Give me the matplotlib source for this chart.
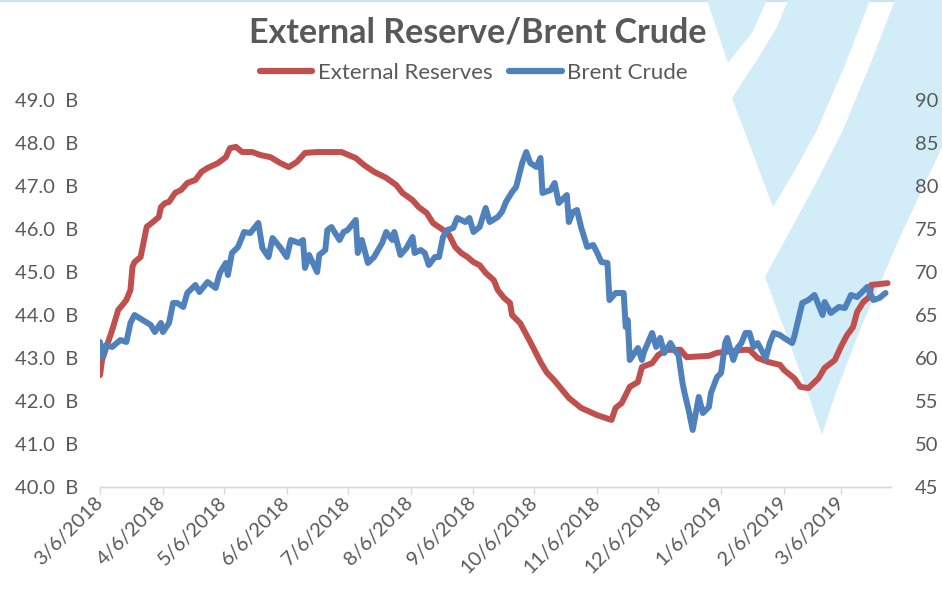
import matplotlib
matplotlib.use("Agg")
import matplotlib.pyplot as plt
import matplotlib.transforms as mtransforms
from matplotlib.patches import Polygon
from matplotlib.lines import Line2D
import pandas as pd

plt.rcParams['font.family'] = ['Lato', 'DejaVu Sans']

# ---------------- data ----------------
start_date = "2018-03-06"

reserve_days = [0, 1, 4, 6, 9, 11, 13, 15, 16, 17, 20, 21, 23, 26, 29, 30, 32, 34, 37, 40,
                43, 47, 50, 53, 58, 62, 64, 67, 70, 75, 79, 84, 89, 93, 97, 101, 107, 119, 126, 130,
                135, 141, 146, 149, 154, 157, 161, 164, 169, 172, 175, 178, 181, 184, 187, 190, 194, 196, 199, 202,
                203, 207, 212, 217, 220, 224, 231, 237, 245, 252, 254, 257, 261, 265, 267, 272, 275, 279, 286, 289,
                300, 304, 317, 320, 324, 329, 335, 337, 342, 345, 349, 354, 357, 362, 365, 368, 371, 373, 376, 379,
                380, 388]
reserve_values = [42.60, 42.95, 43.37, 43.65, 44.12, 44.23, 44.35, 44.58, 45.12, 45.23,
                  45.35, 45.58, 46.05, 46.16, 46.28, 46.51, 46.60, 46.63, 46.84, 46.91,
                  47.07, 47.14, 47.33, 47.42, 47.53, 47.67, 47.88, 47.91, 47.79, 47.79,
                  47.72, 47.67, 47.53, 47.44, 47.56, 47.77, 47.79, 47.79, 47.65, 47.49,
                  47.33, 47.19, 47.02, 46.84, 46.67, 46.51, 46.37, 46.14, 45.98, 45.86,
                  45.58, 45.44, 45.35, 45.23, 45.16, 44.98, 44.81, 44.58, 44.40, 44.28,
                  44.00, 43.81, 43.37, 42.91, 42.67, 42.47, 42.07, 41.84, 41.67, 41.56,
                  41.84, 41.95, 42.33, 42.44, 42.79, 42.88, 43.07, 43.19, 43.19, 43.02,
                  43.05, 43.12, 43.19, 43.19, 43.00, 42.91, 42.84, 42.72, 42.53, 42.33,
                  42.30, 42.53, 42.77, 42.95, 43.26, 43.53, 43.72, 44.07, 44.30, 44.42,
                  44.70, 44.74]

brent_days = [0, 1, 3, 6, 10, 13, 15, 17, 21, 25, 27, 30, 31, 34, 36, 38, 41, 43, 47, 49,
              53, 57, 59, 62, 63, 65, 68, 71, 74, 78, 80, 83, 85, 89, 92, 94, 98, 100, 101, 103,
              107, 108, 111, 112, 114, 118, 120, 122, 126, 127, 129, 132, 135, 139, 141, 144, 145, 148, 151, 154,
              155, 158, 160, 162, 165, 167, 169, 171, 174, 176, 180, 182, 184, 187, 190, 192, 196, 198, 200, 203,
              205, 208, 210, 212, 215, 217, 218, 222, 224, 226, 230, 231, 233, 235, 237, 240, 243, 245, 247, 250,
              251, 254, 258, 259, 260, 261, 265, 267, 268, 272, 274, 276, 278, 281, 283, 285, 287, 288, 290, 292,
              295, 297, 300, 301, 304, 306, 308, 309, 312, 314, 316, 318, 320, 322, 324, 328, 330, 332, 335, 337,
              341, 342, 346, 349, 352, 356, 357, 360, 364, 367, 370, 373, 378, 381, 384, 387]
brent_values = [61.86, 60.12, 61.51, 61.28, 62.09, 61.86, 64.07, 65.00, 64.42, 63.84,
                63.02, 64.07, 63.02, 64.07, 66.40, 66.40, 65.93, 67.56, 68.49, 67.67,
                68.84, 68.14, 69.88, 71.05, 69.65, 72.21, 72.91, 74.65, 74.53, 75.70,
                72.79, 71.74, 73.95, 72.79, 71.74, 73.72, 73.37, 73.72, 70.47, 71.98,
                70.00, 71.98, 72.56, 74.88, 75.23, 73.72, 74.65, 74.88, 76.05, 72.21,
                73.72, 71.05, 71.74, 73.37, 74.65, 73.72, 74.65, 71.98, 72.79, 74.07,
                72.21, 72.56, 72.21, 70.81, 71.74, 71.74, 74.07, 74.88, 75.12, 76.28,
                75.81, 76.28, 74.65, 75.23, 77.44, 75.81, 76.40, 76.98, 78.14, 79.30,
                79.88, 82.67, 83.95, 82.67, 82.21, 83.26, 79.19, 79.53, 80.35, 78.02,
                78.95, 75.81, 76.98, 77.21, 75.23, 72.91, 73.14, 72.21, 71.16, 71.05,
                66.74, 67.56, 67.56, 63.60, 64.42, 59.77, 61.16, 59.77, 60.70, 62.91,
                61.28, 62.33, 60.58, 61.74, 60.93, 60.35, 57.09, 55.93, 53.95, 51.63,
                55.47, 53.60, 54.30, 55.93, 57.79, 58.26, 61.74, 62.33, 59.77, 61.16,
                61.74, 62.91, 62.91, 61.28, 61.74, 60.00, 61.74, 62.91, 62.67, 62.33,
                61.74, 62.44, 66.40, 66.74, 67.33, 65.00, 66.51, 65.23, 65.93, 65.81,
                67.33, 67.09, 68.26, 66.74, 66.98, 67.56]

tick_dates = ["2018-03-06", "2018-04-06", "2018-05-06", "2018-06-06", "2018-07-06",
              "2018-08-06", "2018-09-06", "2018-10-06", "2018-11-06", "2018-12-06",
              "2019-01-06", "2019-02-06", "2019-03-06"]
left_ticks = [40, 41, 42, 43, 44, 45, 46, 47, 48, 49]
right_ticks = [45, 50, 55, 60, 65, 70, 75, 80, 85, 90]
axis_end_days = 389.7

title_text = "External Reserve/Brent Crude"
series_names = ["External Reserves", "Brent Crude"]

# ---------------- style ----------------
RED = "#C0504D"
BLUE = "#4F81BD"
GREY = "#595959"
AXIS = "#D9D9D9"
WM = "#D3EDF8"

W, H = 942, 591
fig = plt.figure(figsize=(W / 100, H / 100), dpi=100)
fig.patch.set_facecolor("white")


def px(pts):
    return [(x / W, 1 - y / H) for x, y in pts]


# watermark shapes (background decoration)
shapes = [
    [(707, 0), (767, 0), (752, 33), (728, 63)],
    [(788, 0), (870, 0), (845, 65), (817, 130), (795, 170), (773, 207), (732, 98), (757, 60), (777, 27)],
    [(895, 0), (942, 0), (942, 147), (900, 237), (860, 330), (835, 395), (822, 435),
     (805, 385), (765, 277), (785, 240), (815, 185), (843, 130), (870, 65)],
]
for s in shapes:
    fig.patches.append(Polygon(px(s), closed=True, transform=fig.transFigure,
                               facecolor=WM, edgecolor="none", zorder=-10))
fig.add_artist(Line2D([0, 1], [1 - 0.8 / H, 1 - 0.8 / H], transform=fig.transFigure,
                      color="#C9E3F5", lw=1.5, zorder=-10))

start = pd.Timestamp(start_date)
r_x = start + pd.to_timedelta(reserve_days, unit="D")
b_x = start + pd.to_timedelta(brent_days, unit="D")
ticks = pd.to_datetime(tick_dates)

ax = fig.add_axes([100 / W, 104 / H, 791 / W, 387 / H])
ax2 = ax.twinx()
for a in (ax, ax2):
    a.patch.set_visible(False)
    for sp in ("top", "left", "right"):
        a.spines[sp].set_visible(False)
    a.spines["bottom"].set_color(AXIS)
    a.spines["bottom"].set_linewidth(1.0)

LW = 4.3
ax.plot(r_x, reserve_values, color=RED, lw=LW, solid_joinstyle="round", solid_capstyle="round", zorder=3)
ax2.plot(b_x, brent_values, color=BLUE, lw=LW, solid_joinstyle="round", solid_capstyle="round", zorder=3)

ax.set_xlim(start, start + pd.Timedelta(days=axis_end_days))
ax.set_ylim(left_ticks[0], left_ticks[-1])
ax2.set_ylim(right_ticks[0], right_ticks[-1])

ax.set_yticks(left_ticks)
ax.set_yticklabels([f"{v:.1f}  B" for v in left_ticks])
ax2.set_yticks(right_ticks)
ax2.set_yticklabels([f"{v}" for v in right_ticks])

ax.set_xticks(ticks)
ax.set_xticklabels([f"{d.month}/{d.day}/{d.year}" for d in ticks],
                   rotation=45, ha="right", va="center", rotation_mode="anchor")
shift = mtransforms.ScaledTranslation(6 / 100, -5 / 100, fig.dpi_scale_trans)
for lab in ax.get_xticklabels():
    lab.set_transform(lab.get_transform() + shift)

ax.tick_params(axis="y", length=0, pad=16, labelsize=14.5, labelcolor=GREY)
ax2.tick_params(axis="y", length=0, pad=17, labelsize=14.5, labelcolor=GREY)
ax.tick_params(axis="x", direction="out", length=5, width=1, color=AXIS,
               pad=4, labelsize=14.5, labelcolor=GREY)

fig.text(478 / W, 1 - 32 / H, title_text, ha="center", va="center",
         fontsize=24.5, fontweight="bold", color=GREY)

handles = [Line2D([], [], color=RED, lw=4.5, solid_capstyle="round"),
           Line2D([], [], color=BLUE, lw=4.5, solid_capstyle="round")]
fig.legend(handles, series_names, loc="center", bbox_to_anchor=(474 / W, 1 - 73 / H),
           ncol=2, frameon=False, fontsize=16, labelcolor=GREY,
           handlelength=2.35, handletextpad=0.25, columnspacing=0.75)

fig.savefig("out.png", dpi=100)
